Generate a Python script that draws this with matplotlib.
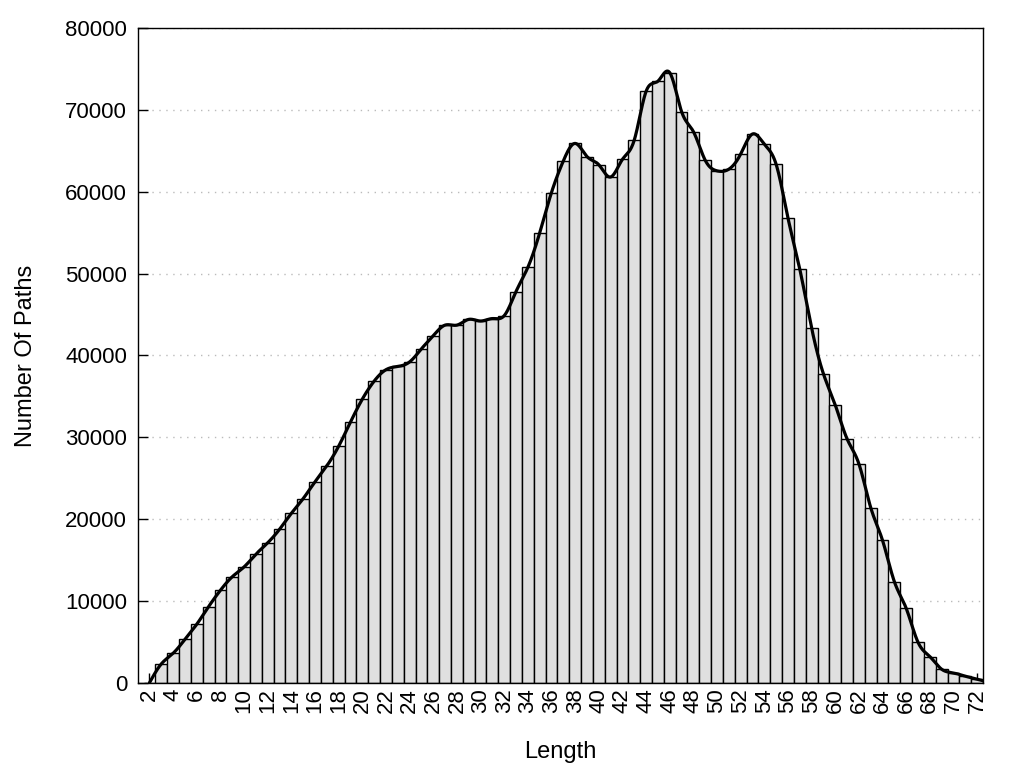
"""Histogram of path lengths with a smoothed outline"""

import numpy as np
import matplotlib
matplotlib.use("Agg")
import matplotlib.pyplot as plt

# section: data
lengths = list(range(2, 74))
num_paths = [
    0, 2300, 3600, 5300, 7150, 9300, 11300, 12950, 14150, 15700,
    17100, 18750, 20700, 22500, 24550, 26500, 28900, 31850, 34650, 36850,
    38250, 38650, 39200, 40800, 42400, 43700, 43700, 44400, 44200, 44500,
    44850, 47800, 50750, 54950, 59900, 63750, 65900, 64300, 63300, 61800,
    63950, 66300, 72250, 73500, 74550, 69800, 67350, 63850, 62550, 62750,
    64600, 67050, 65800, 63350, 56800, 50550, 43350, 37750, 33950, 29800,
    26750, 21400, 17400, 12350, 9100, 4950, 3200, 1650, 1200, 800,
    450, 0,
]
x_ticks = list(range(2, 73, 2))
y_ticks = list(range(0, 80001, 10000))


def natural_spline(x, y, xs):
    """Natural cubic spline through (x, y), evaluated at xs"""
    x = np.asarray(x, dtype=float)
    y = np.asarray(y, dtype=float)
    n = len(x)
    h = np.diff(x)
    a = np.zeros((n, n))
    b = np.zeros(n)
    a[0, 0] = 1.0
    a[-1, -1] = 1.0
    for i in range(1, n - 1):
        a[i, i - 1] = h[i - 1]
        a[i, i] = 2 * (h[i - 1] + h[i])
        a[i, i + 1] = h[i]
        b[i] = 3 * ((y[i + 1] - y[i]) / h[i] - (y[i] - y[i - 1]) / h[i - 1])
    c = np.linalg.solve(a, b)
    d = (c[1:] - c[:-1]) / (3 * h)
    bb = (y[1:] - y[:-1]) / h - h * (2 * c[:-1] + c[1:]) / 3
    idx = np.clip(np.searchsorted(x, xs) - 1, 0, n - 2)
    dx = xs - x[idx]
    return y[idx] + bb[idx] * dx + c[idx] * dx**2 + d[idx] * dx**3


def main():
    plt.rcParams["font.family"] = ["Liberation Sans", "DejaVu Sans"]

    fig, ax = plt.subplots(figsize=(10.24, 7.68), dpi=100)
    fig.subplots_adjust(left=0.135, right=0.96, top=0.9635, bottom=0.111)

    # section: bars
    ax.bar(lengths, num_paths, width=1.0, color="#e0e0e0",
           edgecolor="black", linewidth=1.0, zorder=2)

    # section: smooth curve
    xs = np.linspace(lengths[0], lengths[-1], 2000)
    ys = natural_spline(lengths, num_paths, xs)
    ax.plot(xs, ys, color="black", linewidth=2.3, zorder=3,
            solid_capstyle="round")

    # section: axes
    ax.set_xlim(1.05, 72.5)
    ax.set_ylim(0, 80000)
    ax.set_xticks(x_ticks)
    ax.set_xticklabels([str(t) for t in x_ticks], rotation=90, fontsize=16)
    ax.set_yticks(y_ticks)
    ax.set_yticklabels([str(t) for t in y_ticks], fontsize=16)
    ax.tick_params(axis="both", direction="in", length=7.5, width=1.0,
                   colors="black")
    ax.tick_params(axis="x", pad=4)
    ax.tick_params(axis="y", pad=8)
    ax.set_axisbelow(True)
    ax.yaxis.grid(True, linestyle=(0, (1, 4)), color="#bbbbbb", linewidth=1.0)
    for spine in ax.spines.values():
        spine.set_linewidth(1.0)
        spine.set_zorder(4)
    ax.set_xlabel("Length", fontsize=17, labelpad=20)
    ax.set_ylabel("Number Of Paths", fontsize=17, labelpad=20)

    fig.savefig("out.png", dpi=100)
    plt.close(fig)


if __name__ == "__main__":
    main()
